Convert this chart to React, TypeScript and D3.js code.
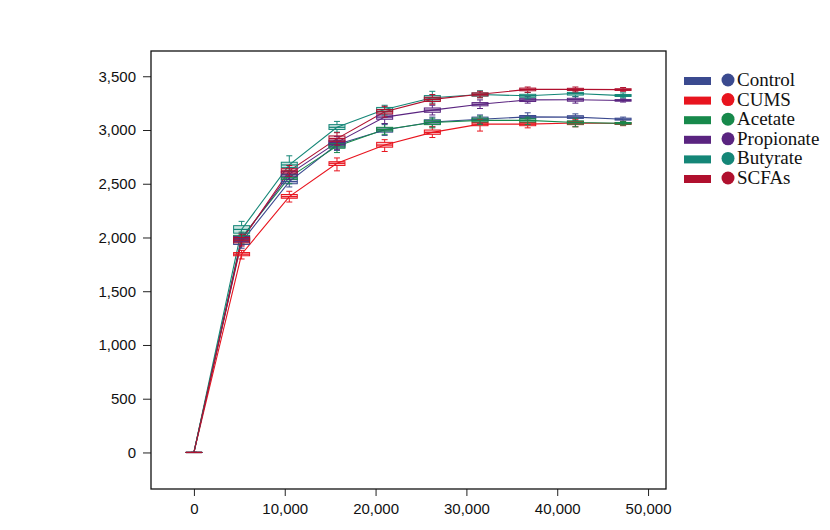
import React, { useEffect, useRef } from "react";
import * as d3 from "d3";

// Sampling depths (x)
const depths = [0, 5250, 10500, 15750, 21000, 26250, 31500, 36750, 42000, 47250];

// Each tuple: [low whisker, q1, median, q3, high whisker]
const control = [
  [0, 0, 0, 0, 0], [1900, 1935, 1960, 1990, 2020], [2470, 2500, 2520, 2545, 2580],
  [2810, 2840, 2865, 2890, 2920], [2950, 2980, 3000, 3020, 3050], [3030, 3055, 3075, 3095, 3120],
  [3060, 3085, 3100, 3120, 3140], [3090, 3108, 3122, 3135, 3160], [3090, 3108, 3120, 3133, 3150],
  [3080, 3092, 3100, 3110, 3120],
];
const cums = [
  [0, 0, 0, 0, 0], [1800, 1830, 1845, 1860, 1880], [2330, 2365, 2380, 2400, 2430],
  [2620, 2670, 2690, 2705, 2740], [2800, 2840, 2860, 2885, 2910], [2930, 2960, 2978, 3000, 3030],
  [2990, 3040, 3055, 3070, 3100], [3020, 3040, 3055, 3070, 3090], [3030, 3050, 3065, 3080, 3100],
  [3040, 3052, 3060, 3068, 3080],
];
const acetate = [
  [0, 0, 0, 0, 0], [1940, 1975, 2000, 2020, 2050], [2500, 2540, 2560, 2585, 2620],
  [2790, 2830, 2850, 2875, 2900], [2960, 2990, 3005, 3025, 3060], [3020, 3050, 3070, 3090, 3110],
  [3050, 3075, 3090, 3110, 3130], [3050, 3075, 3090, 3105, 3120], [3030, 3055, 3070, 3085, 3110],
  [3045, 3055, 3062, 3070, 3080],
];
const propionate = [
  [0, 0, 0, 0, 0], [1930, 1965, 1985, 2010, 2040], [2540, 2570, 2590, 2615, 2650],
  [2820, 2860, 2885, 2905, 2940], [3060, 3100, 3120, 3140, 3170], [3140, 3165, 3185, 3205, 3230],
  [3200, 3225, 3240, 3255, 3280], [3250, 3265, 3280, 3295, 3310], [3250, 3268, 3282, 3295, 3310],
  [3260, 3268, 3275, 3283, 3290],
];
const butyrate = [
  [0, 0, 0, 0, 0], [2010, 2040, 2075, 2110, 2150], [2620, 2650, 2675, 2700, 2760],
  [2980, 3005, 3025, 3050, 3080], [3140, 3170, 3190, 3210, 3230], [3250, 3280, 3300, 3320, 3360],
  [3300, 3315, 3330, 3345, 3365], [3290, 3305, 3318, 3332, 3350], [3310, 3325, 3340, 3350, 3370],
  [3300, 3312, 3320, 3330, 3345],
];
const scfas = [
  [0, 0, 0, 0, 0], [1920, 1950, 1975, 2000, 2030], [2570, 2600, 2620, 2640, 2670],
  [2860, 2895, 2920, 2945, 2975], [3120, 3150, 3170, 3190, 3220], [3240, 3265, 3285, 3305, 3330],
  [3300, 3318, 3332, 3345, 3360], [3350, 3365, 3378, 3390, 3400], [3355, 3368, 3378, 3388, 3400],
  [3360, 3368, 3376, 3384, 3395],
];

const groupNames = ["Control", "CUMS", "Acetate", "Propionate", "Butyrate", "SCFAs"];
const groupColors = ["#3b4a8f", "#e8141e", "#17894b", "#5a2480", "#148677", "#b0102e"];
const groupData = [control, cums, acetate, propionate, butyrate, scfas];

const yTicks = [0, 500, 1000, 1500, 2000, 2500, 3000, 3500];
const xTicks = [0, 10000, 20000, 30000, 40000, 50000];

const W = 830, H = 530;
const frame = { left: 151, right: 666, top: 51, bottom: 489 };

export default function App() {
  const ref = useRef<SVGSVGElement>(null);

  useEffect(() => {
    const svg = d3.select(ref.current);
    svg.selectAll("*").remove();

    const x = d3.scaleLinear().domain([-4725, 51975]).range([frame.left, frame.right]);
    const y = d3.scaleLinear().domain([-340, 3735]).range([frame.bottom, frame.top]);
    const fmt = d3.format(",");

    // axes
    const yAxis = svg.append("g").attr("transform", `translate(${frame.left},0)`)
      .call(d3.axisLeft(y).tickValues(yTicks).tickFormat((d: any) => fmt(d)).tickSize(8).tickSizeOuter(0).tickPadding(7));
    yAxis.select(".domain").remove();
    yAxis.selectAll("text").attr("font-family", "Liberation Sans, Arial, sans-serif").attr("font-size", 15).attr("fill", "#111");
    yAxis.selectAll("line").attr("stroke", "#222");

    const xAxis = svg.append("g").attr("transform", `translate(0,${frame.bottom})`)
      .call(d3.axisBottom(x).tickValues(xTicks).tickFormat((d: any) => fmt(d)).tickSize(7).tickSizeOuter(0).tickPadding(7));
    xAxis.select(".domain").remove();
    xAxis.selectAll("text").attr("font-family", "Liberation Sans, Arial, sans-serif").attr("font-size", 15).attr("fill", "#111");
    xAxis.selectAll("line").attr("stroke", "#222");

    // frame
    svg.append("rect")
      .attr("x", frame.left).attr("y", frame.top)
      .attr("width", frame.right - frame.left).attr("height", frame.bottom - frame.top)
      .attr("fill", "none").attr("stroke", "#111").attr("stroke-width", 1.3);

    const plot = svg.append("g");
    const line = d3.line<number[]>().x((_d, i) => x(depths[i])).y((d) => y(d[2]));

    // lines
    groupData.forEach((data, gi) => {
      plot.append("path").datum(data as number[][])
        .attr("d", line as any)
        .attr("fill", "none").attr("stroke", groupColors[gi]).attr("stroke-width", 1.1);
    });

    // boxes
    const bw = 16, cap = 6;
    groupData.forEach((data, gi) => {
      const c = groupColors[gi];
      const g = plot.append("g");
      data.forEach((t, i) => {
        const cx = x(depths[i]);
        const [lo, q1, med, q3, hi] = t;
        g.append("line").attr("x1", cx).attr("x2", cx).attr("y1", y(lo)).attr("y2", y(q1)).attr("stroke", c).attr("stroke-width", 1);
        g.append("line").attr("x1", cx).attr("x2", cx).attr("y1", y(q3)).attr("y2", y(hi)).attr("stroke", c).attr("stroke-width", 1);
        g.append("line").attr("x1", cx - cap / 2).attr("x2", cx + cap / 2).attr("y1", y(lo)).attr("y2", y(lo)).attr("stroke", c);
        g.append("line").attr("x1", cx - cap / 2).attr("x2", cx + cap / 2).attr("y1", y(hi)).attr("y2", y(hi)).attr("stroke", c);
        g.append("rect").attr("x", cx - bw / 2).attr("y", y(q3)).attr("width", bw)
          .attr("height", Math.max(0.01, y(q1) - y(q3)))
          .attr("fill", c).attr("fill-opacity", 0.22).attr("stroke", c).attr("stroke-width", 1);
        g.append("line").attr("x1", cx - bw / 2).attr("x2", cx + bw / 2).attr("y1", y(med)).attr("y2", y(med)).attr("stroke", c).attr("stroke-width", 1.2);
      });
    });

    // legend
    const lg = svg.append("g").attr("transform", "translate(684,81)");
    groupNames.forEach((name, i) => {
      const row = lg.append("g").attr("transform", `translate(0,${i * 19.6})`);
      row.append("rect").attr("x", 0).attr("y", -4).attr("width", 27).attr("height", 8).attr("fill", groupColors[i]);
      row.append("circle").attr("cx", 44).attr("cy", -1).attr("r", 6.5).attr("fill", groupColors[i]);
      row.append("text").attr("x", 53).attr("y", 5).text(name)
        .attr("font-family", "Liberation Serif, Times New Roman, serif").attr("font-size", 19).attr("fill", "#111");
    });
  }, []);

  return (
    <svg ref={ref} width={W} height={H} style={{ position: "absolute", left: 0, top: 0, background: "#fff" }} />
  );
}
